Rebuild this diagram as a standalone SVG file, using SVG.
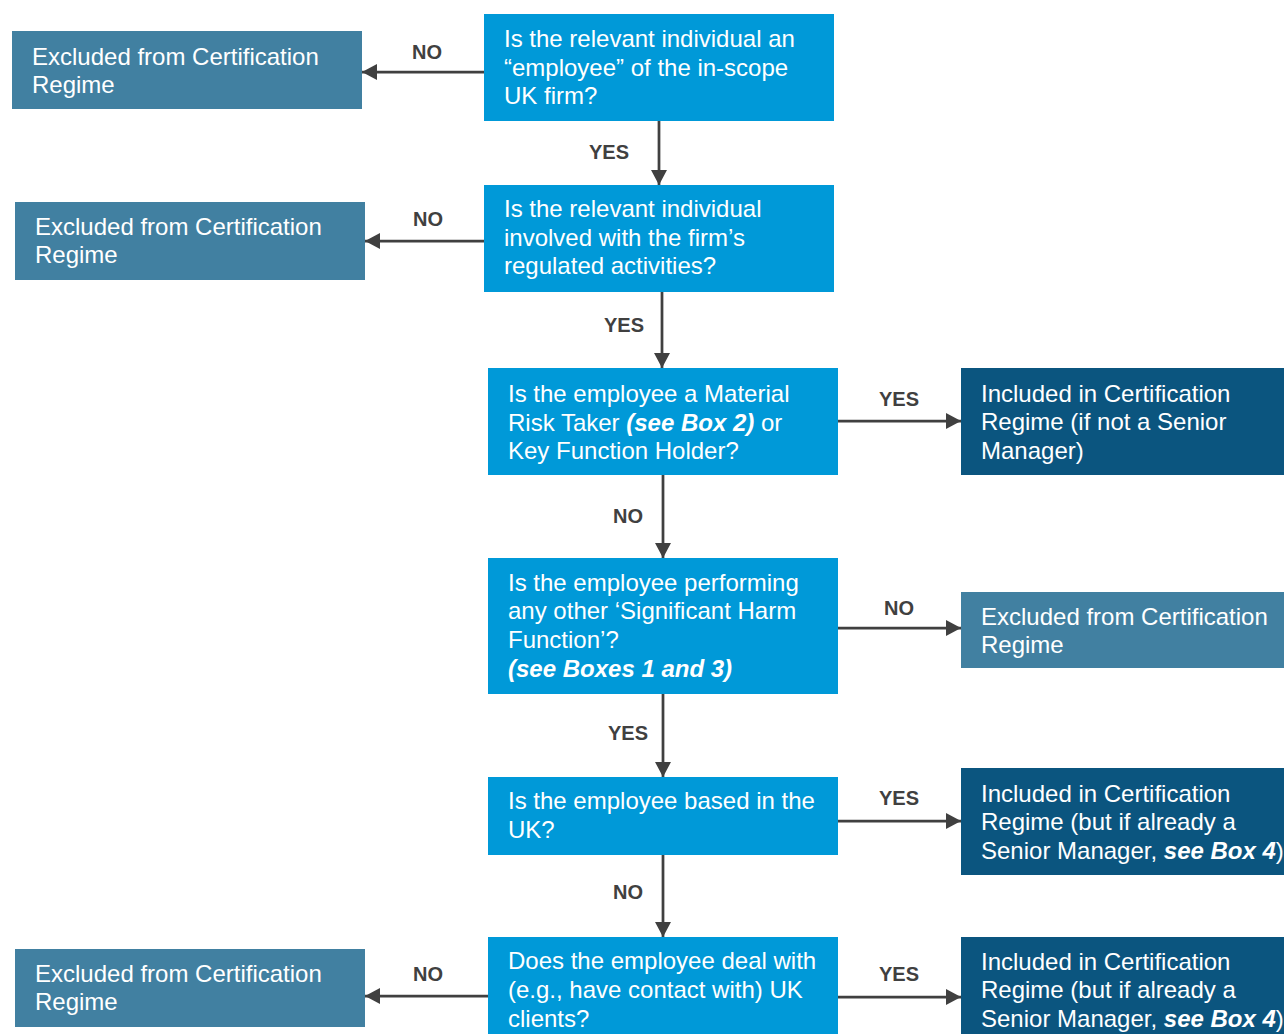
<svg xmlns="http://www.w3.org/2000/svg" width="1284" height="1034" viewBox="0 0 1284 1034">
<style>
.q{fill:#0099D8}
.ex{fill:#4180A1}
.in{fill:#0B557F}
.t{font-family:"Liberation Sans",Arial,sans-serif;font-size:24px;fill:#FFFFFF}
.bi{font-weight:bold;font-style:italic}
.lbl{font-family:"Liberation Sans",Arial,sans-serif;font-size:20px;font-weight:bold;fill:#404040;text-anchor:middle}
.c{fill:none;stroke:#404040;stroke-width:2.75;marker-end:url(#ah)}
</style>
<defs>
<marker id="ah" markerUnits="userSpaceOnUse" markerWidth="16" markerHeight="16" refX="15" refY="8" orient="auto">
<path d="M0,0 L15,8 L0,16 z" fill="#404040"/>
</marker>
</defs>
<rect width="1284" height="1034" fill="#FFFFFF"/>

<g id="connectors">
<path class="c" d="M484,72 H362"/>
<path class="c" d="M659,121 V185"/>
<path class="c" d="M484,241 H365"/>
<path class="c" d="M662,292 V368"/>
<path class="c" d="M838,421 H961"/>
<path class="c" d="M663,475 V558"/>
<path class="c" d="M838,628 H961"/>
<path class="c" d="M663,694 V777"/>
<path class="c" d="M838,821 H961"/>
<path class="c" d="M663,855 V937"/>
<path class="c" d="M488,996 H365"/>
<path class="c" d="M838,997 H961"/>
<text class="lbl" x="427" y="59">NO</text>
<text class="lbl" x="609" y="159">YES</text>
<text class="lbl" x="428" y="226">NO</text>
<text class="lbl" x="624" y="332">YES</text>
<text class="lbl" x="899" y="406">YES</text>
<text class="lbl" x="628" y="523">NO</text>
<text class="lbl" x="899" y="615">NO</text>
<text class="lbl" x="628" y="740">YES</text>
<text class="lbl" x="899" y="805">YES</text>
<text class="lbl" x="628" y="899">NO</text>
<text class="lbl" x="428" y="981">NO</text>
<text class="lbl" x="899" y="981">YES</text>
</g>

<g id="q1">
<rect class="q" x="484" y="14" width="350" height="107"/>
<text class="t" x="504" y="47">Is the relevant individual an</text>
<text class="t" x="504" y="75.5">“employee” of the in-scope</text>
<text class="t" x="504" y="104">UK firm?</text>
</g>
<g id="ex1">
<rect class="ex" x="12" y="31" width="350" height="78"/>
<text class="t" x="32" y="65">Excluded from Certification</text>
<text class="t" x="32" y="93">Regime</text>
</g>

<g id="q2">
<rect class="q" x="484" y="185" width="350" height="107"/>
<text class="t" x="504" y="217">Is the relevant individual</text>
<text class="t" x="504" y="246">involved with the firm’s</text>
<text class="t" x="504" y="274">regulated activities?</text>
</g>
<g id="ex2">
<rect class="ex" x="15" y="202" width="350" height="78"/>
<text class="t" x="35" y="235">Excluded from Certification</text>
<text class="t" x="35" y="263">Regime</text>
</g>

<g id="q3">
<rect class="q" x="488" y="368" width="350" height="107"/>
<text class="t" x="508" y="402">Is the employee a Material</text>
<text class="t" x="508" y="431">Risk Taker <tspan class="bi">(see Box 2)</tspan> or</text>
<text class="t" x="508" y="459">Key Function Holder?</text>
</g>
<g id="in1">
<rect class="in" x="961" y="368" width="323" height="107"/>
<text class="t" x="981" y="402">Included in Certification</text>
<text class="t" x="981" y="430">Regime (if not a Senior</text>
<text class="t" x="981" y="459">Manager)</text>
</g>

<g id="q4">
<rect class="q" x="488" y="558" width="350" height="136"/>
<text class="t" x="508" y="591">Is the employee performing</text>
<text class="t" x="508" y="619">any other ‘Significant Harm</text>
<text class="t" x="508" y="648">Function’?</text>
<text class="t bi" x="508" y="677">(see Boxes 1 and 3)</text>
</g>
<g id="ex3">
<rect class="ex" x="961" y="592" width="323" height="76"/>
<text class="t" x="981" y="625">Excluded from Certification</text>
<text class="t" x="981" y="653">Regime</text>
</g>

<g id="q5">
<rect class="q" x="488" y="777" width="350" height="78"/>
<text class="t" x="508" y="809">Is the employee based in the</text>
<text class="t" x="508" y="838">UK?</text>
</g>
<g id="in2">
<rect class="in" x="961" y="768" width="323" height="107"/>
<text class="t" x="981" y="802">Included in Certification</text>
<text class="t" x="981" y="830">Regime (but if already a</text>
<text class="t" x="981" y="859">Senior Manager, <tspan class="bi">see Box 4</tspan>)</text>
</g>

<g id="q6">
<rect class="q" x="488" y="937" width="350" height="100"/>
<text class="t" x="508" y="969">Does the employee deal with</text>
<text class="t" x="508" y="998">(e.g., have contact with) UK</text>
<text class="t" x="508" y="1027">clients?</text>
</g>
<g id="ex4">
<rect class="ex" x="15" y="949" width="350" height="78"/>
<text class="t" x="35" y="982">Excluded from Certification</text>
<text class="t" x="35" y="1010">Regime</text>
</g>
<g id="in3">
<rect class="in" x="961" y="937" width="323" height="100"/>
<text class="t" x="981" y="970">Included in Certification</text>
<text class="t" x="981" y="998">Regime (but if already a</text>
<text class="t" x="981" y="1027">Senior Manager, <tspan class="bi">see Box 4</tspan>)</text>
</g>
</svg>
